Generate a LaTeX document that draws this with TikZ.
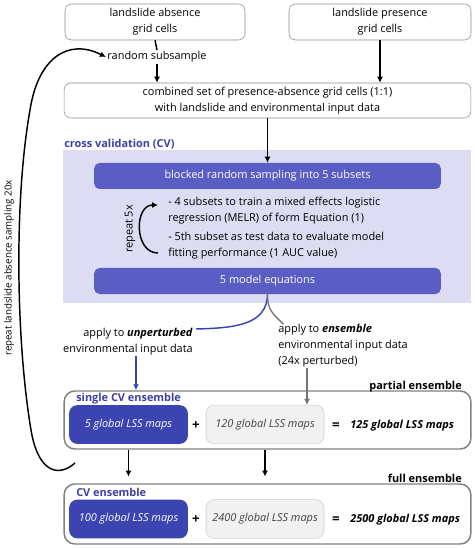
\documentclass[tikz,border=0pt]{standalone}
\usepackage{fontspec}
\setmainfont{Open Sans}
\usetikzlibrary{arrows.meta,positioning,calc}
\definecolor{cvback}{HTML}{DCDCF2}
\definecolor{cvblue}{HTML}{5A5EC4}
\definecolor{cvdark}{HTML}{3B44B0}
\definecolor{cvtitle}{HTML}{3C40A6}
\definecolor{mapgray}{HTML}{F1F1F1}
\newcommand{\basefont}{\fontsize{8.2}{12}\selectfont}
\tikzset{gridbox/.style={draw=black!45, rounded corners=5, fill=white, align=center, inner sep=0pt, minimum height=27pt}}
\tikzset{cvbar/.style={fill=cvblue, text=white, rounded corners=4, inner sep=0pt, minimum width=260pt, minimum height=19.5pt}}
\tikzset{ensbox/.style={draw=black!50, line width=1.1pt, rounded corners=8, minimum width=305pt, inner sep=0pt}}
\tikzset{lssblue/.style={fill=cvdark, text=white, font=\basefont\itshape, rounded corners=6, minimum width=89pt, minimum height=29pt, inner sep=0pt}}
\tikzset{lssgray/.style={fill=mapgray, draw=black!20, text=black!75, font=\basefont\itshape, rounded corners=6, minimum width=88.5pt, minimum height=29pt, inner sep=0pt}}
\tikzset{arr/.style={draw, -{Latex[length=4.5pt,width=4.5pt]}, line width=1.1pt}}
\tikzset{title/.style={font=\basefont\bfseries, text=cvtitle, inner sep=0pt}}
\tikzset{sign/.style={font=\fontsize{10}{12}\selectfont\bfseries, inner sep=0pt}}

\begin{document}
\begin{tikzpicture}[x=0.75pt, y=-0.75pt, font=\basefont]
\useasboundingbox (0,0) rectangle (474,548);
% input data
\node[gridbox, minimum width=135pt] (absence) at (155,22) {landslide absence\\grid cells};
\node[gridbox, minimum width=136.5pt] (presence) at (380,22) {landslide presence\\grid cells};
\node[inner sep=1pt] (subsample) at (157,57) {random subsample};
\node[gridbox, minimum width=305pt, minimum height=26.25pt] (combined) at (267.5,100.5) {combined set of presence-absence grid cells (1:1)\\with landslide and environmental input data};

% cross validation
\node[fill=cvback, minimum width=306pt, minimum height=114.75pt, inner sep=0pt] (cvarea) at (267,226.5) {};
\node[title, anchor=base west] (cvtitle) at (64,148) {cross validation (CV)};
\node[cvbar] (blocked) at (267.5,176) {blocked random sampling into 5 subsets};
\node[anchor=west, align=left, inner sep=0pt] (steps) at (168,228) {- 4 subsets to train a mixed effects logistic\\regression (MELR) of form Equation (1)\\[2pt]- 5th subset as test data to evaluate model\\fitting performance (1 AUC value)};
\node[rotate=90, inner sep=0pt] (repeat5) at (130,229) {repeat 5x};
\node[cvbar] (models) at (267.5,281) {5 model equations};
\coordinate (looptop) at (158,205);
\coordinate (loopbot) at (158,253);

% application
\node[anchor=east, align=right, inner sep=0pt] (unpert) at (193,342) {apply to \textbf{\textit{unperturbed}}\\environmental input data};
\node[anchor=west, align=left, inner sep=0pt] (ens) at (278,346) {apply to \textbf{\textit{ensemble}}\\environmental input data\\(24x perturbed)};
\coordinate (bluend) at (196,329);

% partial ensemble
\node[ensbox, minimum height=43.5pt] (partial) at (267.5,420) {};
\node[font=\basefont\bfseries, anchor=base east, inner sep=0pt] (partlabel) at (462,389) {partial ensemble};
\node[title, anchor=base west] (singlecv) at (76,401) {single CV ensemble};
\node[lssblue] (single5) at (128.5,424.5) {5 global LSS maps};
\node[sign] (plus1) at (196,426) {+};
\node[lssgray] (single120) at (265,424.5) {120 global LSS maps};
\node[sign] (equal1) at (336,426) {=};
\node[font=\basefont\bfseries\itshape, anchor=west, inner sep=0pt] (total125) at (350,426) {125 global LSS maps};

% full ensemble
\node[ensbox, minimum height=45pt] (full) at (267.5,514) {};
\node[font=\basefont\bfseries, anchor=base east, inner sep=0pt] (fulllabel) at (462,482) {full ensemble};
\node[title, anchor=base west] (cvens) at (76,496) {CV ensemble};
\node[lssblue] (full100) at (128.5,519) {100 global LSS maps};
\node[sign] (plus2) at (196,520) {+};
\node[lssgray] (full2400) at (265,519) {2400 global LSS maps};
\node[sign] (equal2) at (336,520) {=};
\node[font=\basefont\bfseries\itshape, anchor=west, inner sep=0pt] (total2500) at (350,520) {2500 global LSS maps};

% outer loop
\node[rotate=90, inner sep=0pt, font=\fontsize{7.3}{9}\selectfont] (repeat20) at (9,268) {repeat landslide absence sampling 20x};
\coordinate (loopstart) at (75,463);

\draw[line width=1.1pt] (absence.south) -- (subsample.north);
\draw[arr] (subsample.south) -- (subsample.south |- combined.north);
\draw[arr] (presence.south) -- (presence.south |- combined.north);
\draw[arr] (combined) -- (blocked);
\draw[arr] (loopbot) .. controls (134,253) and (134,205) .. (looptop);
\draw[cvdark, line width=1.1pt] (models.south) .. controls (267,325) and (235,328) .. (bluend);
\draw[black!55, line width=1pt] (models.south) .. controls (267,312) and (276,316) .. ([xshift=4pt]ens.north west);
\draw[arr, cvdark] ([xshift=6pt]unpert.south) -- ([xshift=6pt]unpert.south |- partial.north);
\draw[arr, black!55] ([xshift=-27pt]ens.south) -- ([xshift=-27pt]ens.south |- single120.north);
\draw[arr, shorten >=5pt] (single5 |- partial.south) -- (single5 |- full.north);
\draw[arr, shorten >=5pt] (single120 |- partial.south) -- (single120 |- full.north);
\draw[arr] (loopstart) .. controls (58,478) and (38,472) .. (31,430) .. controls (16,340) and (14,200) .. (30,110) .. controls (38,58) and (68,38) .. (subsample.west);
\end{tikzpicture}
\end{document}
